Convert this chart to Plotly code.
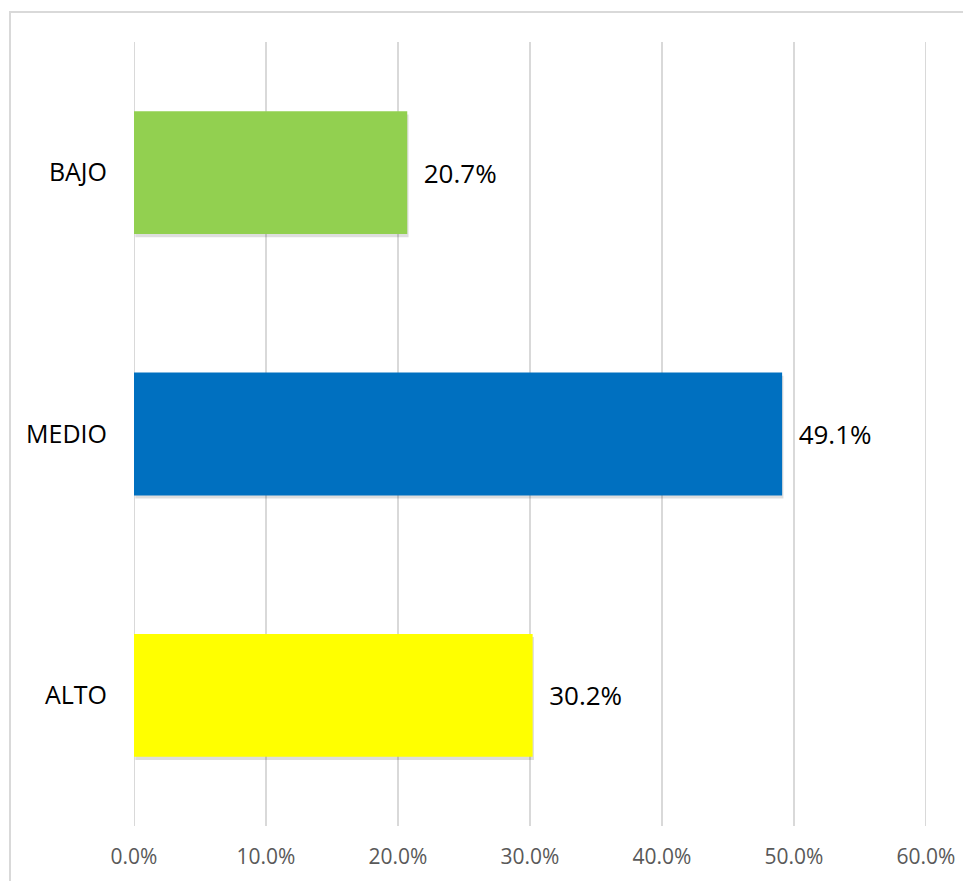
import plotly.graph_objects as go

categories = ["ALTO", "MEDIO", "BAJO"]
values = [30.2, 49.1, 20.7]
colors = ["#FFFF00", "#0070C0", "#92D050"]
tick_vals = [0, 10, 20, 30, 40, 50, 60]
tick_text = ["0.0%", "10.0%", "20.0%", "30.0%", "40.0%", "50.0%", "60.0%"]

FONT = "Open Sans, Liberation Sans, sans-serif"
W, H = 963, 873
L, R, T, B = 126, 45, 34, 55
pw, ph = W - L - R, H - T - B

fig = go.Figure()
# subtle shadow trace
fig.add_trace(go.Bar(
    y=categories, x=values, orientation="h",
    marker=dict(color="rgba(0,0,0,0.13)", line=dict(width=0)),
    width=0.47, offset=-0.235 - 0.012, base=0.1,
    hoverinfo="skip", showlegend=False,
))
fig.add_trace(go.Bar(
    y=categories, x=values, orientation="h",
    marker=dict(color=colors, line=dict(width=0)),
    width=0.47, offset=-0.235,
    text=["\u00a0\u00a0" + f"{v:.1f}%" for v in values], textposition="outside",
    textfont=dict(family=FONT, size=26, color="#000000"),
    cliponaxis=False, showlegend=False,
))

fig.update_layout(
    width=W, height=H,
    margin=dict(l=L, r=R, t=T, b=B),
    paper_bgcolor="white", plot_bgcolor="white",
    barmode="overlay",
    xaxis=dict(range=[0, 60], tickvals=tick_vals, ticktext=tick_text,
               showgrid=True, gridcolor="#D9D9D9", gridwidth=2,
               zeroline=False, showline=False, ticks="",
               tickfont=dict(family=FONT, size=21, color="#595959"),
               ticklabelstandoff=16),
    yaxis=dict(categoryorder="array", categoryarray=categories,
               range=[-0.5, 2.5], showgrid=False, zeroline=False, showline=False, ticks="",
               tickfont=dict(family=FONT, size=25, color="#000000"),
               ticklabelstandoff=26),
)
for edge in (tick_vals[0], tick_vals[-1]):
    fig.add_shape(type="line", xref="x", yref="paper", x0=edge, x1=edge, y0=0, y1=1,
                  line=dict(color="#D9D9D9", width=2), layer="below")
fig.add_shape(type="rect", xref="paper", yref="paper",
              x0=(2 - L) / pw, x1=(W + 10 - L) / pw,
              y0=1 - (H + 10 - T) / ph, y1=1 - (4 - T) / ph,
              line=dict(color="#D9D9D9", width=2), fillcolor="rgba(0,0,0,0)")
fig.write_html("out.html")
